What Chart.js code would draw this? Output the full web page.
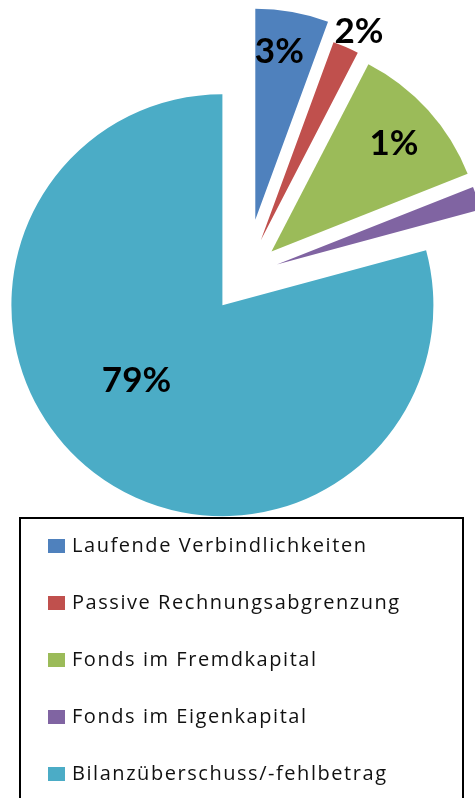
<!DOCTYPE html>
<html>
<head>
<meta charset="utf-8">
<script src="https://cdn.jsdelivr.net/npm/chart.js@4/dist/chart.umd.min.js"></script>
<style>
  html, body { margin: 0; padding: 0; background: #fff; }
  #wrap { position: relative; width: 475px; height: 798px; overflow: hidden; }
  #chartBox { position: absolute; left: 0; top: 0; width: 475px; height: 798px; }
  #legend { position: absolute; left: 19px; top: 517px; width: 441px; height: 320px;
            border: 2px solid #000; box-sizing: content-box; }
  .item { position: absolute; left: 0; height: 24px; line-height: 24px; white-space: nowrap;
          font-family: "Open Sans", Lato, sans-serif; font-size: 20px; letter-spacing: 1.55px; color: #111; }
  .sw { position: absolute; left: 27px; top: 5px; width: 17px; height: 14px; }
  .tx { position: absolute; left: 51px; top: -1px; }
</style>
</head>
<body>
<div id="wrap">
  <div id="chartBox"><canvas id="c"></canvas></div>
  <div id="legend"></div>
</div>
<script>
// ---- data ----
const categories = [
  'Laufende Verbindlichkeiten',
  'Passive Rechnungsabgrenzung',
  'Fonds im Fremdkapital',
  'Fonds im Eigenkapital',
  'Bilanzüberschuss/-fehlbetrag'
];
const shares = [5.6, 2.0, 11.4, 1.8, 79.2];
const pctLabels = ['3%', '2%', '1%', '', '79%'];
const colors = ['#4F81BD', '#C0504D', '#9BBB59', '#8064A2', '#4BACC6'];

// ---- styling (explosion / label placement) ----
const explodePx = [56, 38, 35, 33, 38];
const labelPlace = [
  { r: 0.81, da: -2.0 },
  { r: 1.095, da: 1.4 },
  { r: 0.776, da: 0.6 },
  { r: 0.8, da: 0 },
  { r: 0.54, da: 11.5 }
];

const explodePlugin = {
  id: 'explode',
  beforeDatasetsDraw(chart) {
    const ca = chart.chartArea;
    const cx = (ca.left + ca.right) / 2, cy = (ca.top + ca.bottom) / 2;
    chart.getDatasetMeta(0).data.forEach((arc, i) => {
      const mid = (arc.startAngle + arc.endAngle) / 2;
      arc.x = cx + explodePx[i] * Math.cos(mid);
      arc.y = cy + explodePx[i] * Math.sin(mid);
    });
  }
};

const labelPlugin = {
  id: 'pieLabels',
  afterDatasetsDraw(chart) {
    const ctx = chart.ctx;
    ctx.save();
    ctx.font = 'bold 35px Lato, "Open Sans", sans-serif';
    ctx.fillStyle = '#000';
    ctx.textAlign = 'center';
    ctx.textBaseline = 'middle';
    chart.getDatasetMeta(0).data.forEach((arc, i) => {
      const t = pctLabels[i];
      if (!t) return;
      const p = labelPlace[i];
      const a = (arc.startAngle + arc.endAngle) / 2 + p.da * Math.PI / 180;
      const r = arc.outerRadius * p.r;
      ctx.fillText(t, arc.x + r * Math.cos(a), arc.y + r * Math.sin(a) + 1);
    });
    ctx.restore();
  }
};

new Chart(document.getElementById('c'), {
  type: 'pie',
  data: {
    labels: categories,
    datasets: [{
      data: shares,
      backgroundColor: colors,
      borderWidth: 0,
      radius: 211
    }]
  },
  options: {
    responsive: true,
    maintainAspectRatio: false,
    animation: false,
    events: [],
    layout: { padding: { left: 16, right: 0, top: 0, bottom: 248 } },
    plugins: {
      legend: { display: false },
      tooltip: { enabled: false }
    }
  },
  plugins: [explodePlugin, labelPlugin]
});

// HTML legend built from the same arrays
const lg = document.getElementById('legend');
categories.forEach((name, i) => {
  const row = document.createElement('div');
  row.className = 'item';
  row.style.top = (15 + i * 57) + 'px';
  const sw = document.createElement('span');
  sw.className = 'sw';
  sw.style.background = colors[i];
  const tx = document.createElement('span');
  tx.className = 'tx';
  tx.textContent = name;
  row.appendChild(sw);
  row.appendChild(tx);
  lg.appendChild(row);
});
</script>
</body>
</html>
